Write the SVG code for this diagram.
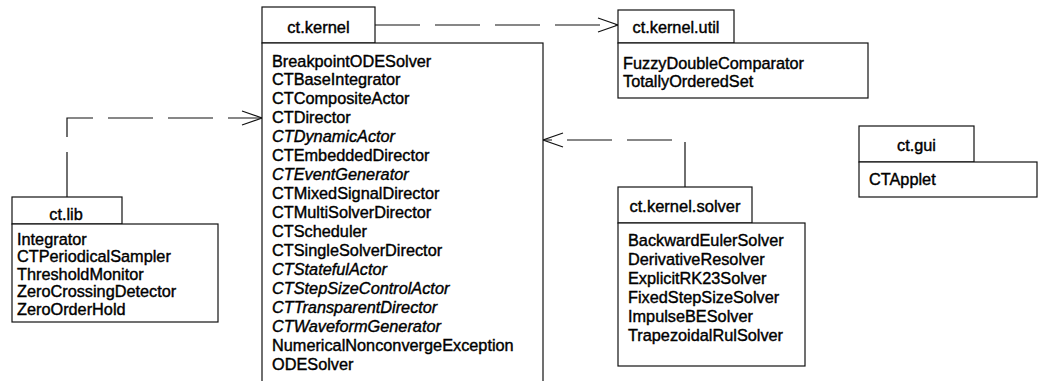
<svg xmlns="http://www.w3.org/2000/svg" width="1039" height="381" viewBox="0 0 1039 381">
<style>
.box{fill:#fff;stroke:#111;stroke-width:1.2}
.t{font-family:"Liberation Sans",Arial,sans-serif;font-size:16.3px;fill:#000;stroke:#000;stroke-width:0.4}
.c{text-anchor:middle}
.i{font-style:italic}
.dep{fill:none;stroke:#111;stroke-width:1.2;stroke-dasharray:45 15}
</style>
<defs>
<marker id="open" viewBox="-22 -9 24 18" refX="0" refY="0" markerWidth="24" markerHeight="18" markerUnits="userSpaceOnUse" orient="auto">
<path d="M-20,-7 L0,0 L-20,7" fill="none" stroke="#111" stroke-width="1.2"/>
</marker>
</defs>
<rect width="1039" height="381" fill="#fff"/>
<g id="connectors">
<path class="dep" d="M375,25 H618" marker-end="url(#open)"/>
<path class="dep" d="M67,197 V118 H262" marker-end="url(#open)"/>
<path class="dep" d="M685,187 V140 H543" marker-end="url(#open)"/>
</g>
<g id="ct.kernel">
<rect class="box" x="262" y="7" width="113" height="36"/>
<rect class="box" x="262" y="43" width="281" height="350"/>
<text class="t c" x="318.5" y="33" style="font-size:16.5px">ct.kernel</text>
<text class="t" x="272" y="66.5">BreakpointODESolver</text>
<text class="t" x="272" y="85.4">CTBaseIntegrator</text>
<text class="t" x="272" y="104.4">CTCompositeActor</text>
<text class="t" x="272" y="123.3">CTDirector</text>
<text class="t i" x="272" y="142.3">CTDynamicActor</text>
<text class="t" x="272" y="161.2">CTEmbeddedDirector</text>
<text class="t i" x="272" y="180.1">CTEventGenerator</text>
<text class="t" x="272" y="199.1">CTMixedSignalDirector</text>
<text class="t" x="272" y="218">CTMultiSolverDirector</text>
<text class="t" x="272" y="237">CTScheduler</text>
<text class="t" x="272" y="255.9">CTSingleSolverDirector</text>
<text class="t i" x="272" y="274.8">CTStatefulActor</text>
<text class="t i" x="272" y="293.8">CTStepSizeControlActor</text>
<text class="t i" x="272" y="312.7">CTTransparentDirector</text>
<text class="t i" x="272" y="331.7">CTWaveformGenerator</text>
<text class="t" x="272" y="350.6">NumericalNonconvergeException</text>
<text class="t" x="272" y="369.5">ODESolver</text>
</g>
<g id="ct.kernel.util">
<rect class="box" x="618" y="10" width="116" height="33"/>
<rect class="box" x="618" y="43" width="250" height="55"/>
<text class="t c" x="676" y="33">ct.kernel.util</text>
<text class="t" x="623" y="69">FuzzyDoubleComparator</text>
<text class="t" x="623" y="87">TotallyOrderedSet</text>
</g>
<g id="ct.lib">
<rect class="box" x="12" y="197" width="110" height="27"/>
<rect class="box" x="12" y="224" width="206" height="98"/>
<text class="t c" x="66" y="219.5">ct.lib</text>
<text class="t" x="17" y="244.5">Integrator</text>
<text class="t" x="17" y="262">CTPeriodicalSampler</text>
<text class="t" x="17" y="279.5">ThresholdMonitor</text>
<text class="t" x="17" y="297">ZeroCrossingDetector</text>
<text class="t" x="17" y="314.5">ZeroOrderHold</text>
</g>
<g id="ct.kernel.solver">
<rect class="box" x="618" y="187" width="134" height="36"/>
<rect class="box" x="618" y="223" width="187" height="143"/>
<text class="t c" x="685" y="211.5" style="font-size:16.5px">ct.kernel.solver</text>
<text class="t" x="628" y="246">BackwardEulerSolver</text>
<text class="t" x="628" y="265">DerivativeResolver</text>
<text class="t" x="628" y="284">ExplicitRK23Solver</text>
<text class="t" x="628" y="303">FixedStepSizeSolver</text>
<text class="t" x="628" y="322">ImpulseBESolver</text>
<text class="t" x="628" y="341">TrapezoidalRulSolver</text>
</g>
<g id="ct.gui">
<rect class="box" x="859" y="126" width="115" height="36"/>
<rect class="box" x="859" y="162" width="178" height="35"/>
<text class="t c" x="916.5" y="150.5">ct.gui</text>
<text class="t" x="869" y="184.5">CTApplet</text>
</g>
</svg>
